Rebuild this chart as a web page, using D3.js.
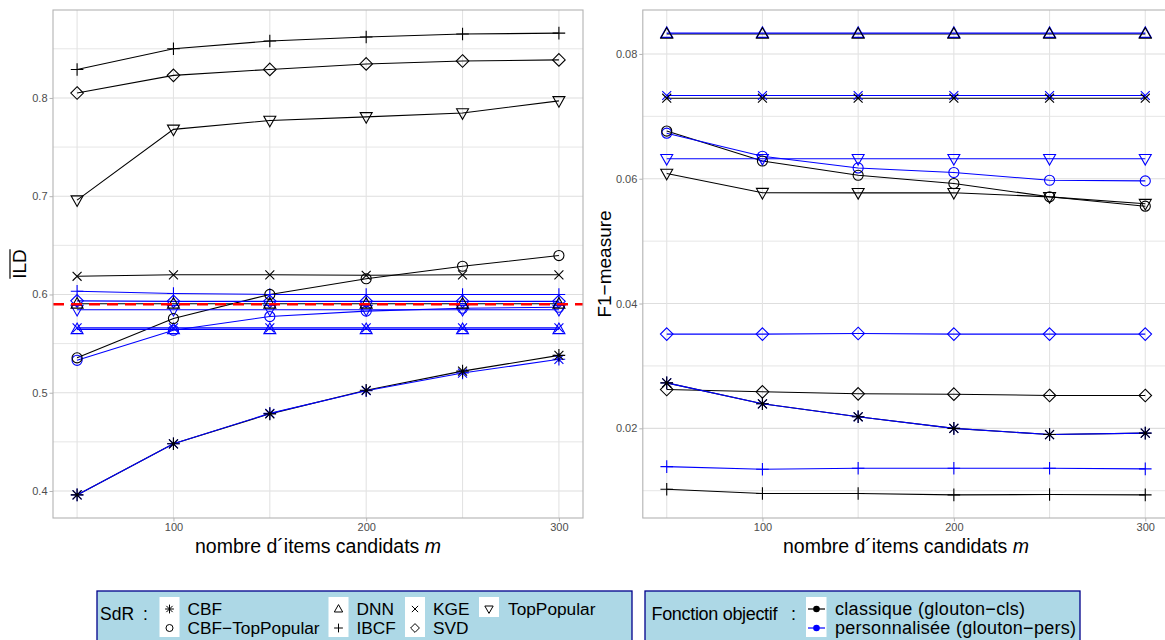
<!DOCTYPE html>
<html>
<head>
<meta charset="utf-8">
<script src="https://cdn.jsdelivr.net/npm/d3@7"></script>
<style>
  body { margin: 0; background: #fff; }
  svg { display: block; font-family: "Liberation Sans", Arial, sans-serif; }
</style>
</head>
<body>
<svg id="chart" width="1165" height="640"></svg>
<script>
// nombre d'items candidats
var mValues = [50, 100, 150, 200, 250, 300]
var systems = ['CBF', 'CBF\u2212TopPopular', 'DNN', 'IBCF', 'KGE', 'SVD', 'TopPopular']
var shapes = ['asterisk', 'circle', 'triUp', 'plus', 'cross', 'diamond', 'triDown']

// ILD, rows follow systems
var ildCls = [
    [0.396, 0.448, 0.4785, 0.5025, 0.522, 0.538],
    [0.5355, 0.5755, 0.600, 0.616, 0.6287, 0.6396],
    [0.5905, 0.5905, 0.5905, 0.5905, 0.5905, 0.5905],
    [0.829, 0.850, 0.858, 0.862, 0.865, 0.866],
    [0.6185, 0.620, 0.620, 0.6195, 0.620, 0.620],
    [0.805, 0.823, 0.829, 0.8346, 0.8376, 0.8387],
    [0.696, 0.768, 0.777, 0.7807, 0.7847, 0.797]
]
var ildPers = [
    [0.396, 0.448, 0.479, 0.502, 0.520, 0.534],
    [0.533, 0.5636, 0.5775, 0.583, 0.586, 0.587],
    [0.5645, 0.5645, 0.5645, 0.5645, 0.5645, 0.5645],
    [0.6033, 0.601, 0.600, 0.600, 0.600, 0.600],
    [0.566, 0.566, 0.566, 0.566, 0.566, 0.566],
    [0.5935, 0.593, 0.593, 0.593, 0.593, 0.593],
    [0.5845, 0.5845, 0.5845, 0.5845, 0.5845, 0.5845]
]
var ildReference = 0.59

// F1-measure
var f1Cls = [
    [0.02728, 0.02393, 0.02185, 0.0200, 0.0190, 0.01923],
    [0.06764, 0.06284, 0.06056, 0.05923, 0.0571, 0.0556],
    [0.0832, 0.0832, 0.0832, 0.0832, 0.0832, 0.0832],
    [0.01024, 0.00955, 0.00955, 0.00933, 0.0094, 0.00933],
    [0.0729, 0.0729, 0.0729, 0.0729, 0.0729, 0.0729],
    [0.02622, 0.02585, 0.02553, 0.02547, 0.02526, 0.02526],
    [0.06083, 0.05776, 0.05774, 0.05775, 0.0571, 0.0560]
]
var f1Pers = [
    [0.02728, 0.02393, 0.02185, 0.0200, 0.0190, 0.01923],
    [0.0673, 0.0636, 0.06173, 0.0610, 0.05976, 0.05965],
    [0.08334, 0.08334, 0.08334, 0.08334, 0.08334, 0.08334],
    [0.01387, 0.01344, 0.0136, 0.0136, 0.0136, 0.0135],
    [0.07334, 0.07334, 0.07334, 0.07334, 0.07334, 0.07334],
    [0.0351, 0.0351, 0.0352, 0.0351, 0.0351, 0.0351],
    [0.0632, 0.0632, 0.0632, 0.0632, 0.0632, 0.0632]
]

var xMajor = [100, 200, 300]
var xMinor = [50, 150, 250]
var ildTicks = [0.4, 0.5, 0.6, 0.7, 0.8]
var ildMinor = [0.45, 0.55, 0.65, 0.75, 0.85]
var f1Ticks = [0.02, 0.04, 0.06, 0.08]
var f1Minor = [0.01, 0.03, 0.05, 0.07]

var objectives = ['classique (glouton\u2212cls)', 'personnalis\u00e9e (glouton\u2212pers)']
var objColors = ['black', 'blue']

var svg = d3.select('#chart')

function shapePath(shape, s){
    var p = d3.path()
    var d = s * 0.71
    if(shape == 'circle'){
        p.arc(0, 0, s * 0.8, 0, 2 * Math.PI)
    } else if(shape == 'triUp'){
        p.moveTo(0, -s); p.lineTo(s * 0.95, s * 0.68); p.lineTo(-s * 0.95, s * 0.68); p.closePath()
    } else if(shape == 'triDown'){
        p.moveTo(0, s); p.lineTo(s * 0.95, -s * 0.68); p.lineTo(-s * 0.95, -s * 0.68); p.closePath()
    } else if(shape == 'diamond'){
        p.moveTo(0, -s); p.lineTo(s, 0); p.lineTo(0, s); p.lineTo(-s, 0); p.closePath()
    } else if(shape == 'plus'){
        p.moveTo(-s, 0); p.lineTo(s, 0); p.moveTo(0, -s); p.lineTo(0, s)
    } else if(shape == 'cross'){
        p.moveTo(-d, -d); p.lineTo(d, d); p.moveTo(-d, d); p.lineTo(d, -d)
    } else {
        p.moveTo(-s, 0); p.lineTo(s, 0); p.moveTo(0, -s); p.lineTo(0, s)
        p.moveTo(-d, -d); p.lineTo(d, d); p.moveTo(-d, d); p.lineTo(d, -d)
    }
    return p.toString()
}

function expand(vals){
    var ext = d3.extent(vals)
    var r = ext[1] - ext[0]
    return [ext[0] - r * 0.05, ext[1] + r * 0.05]
}

var panels = [
    {x0: 53, x1: 583, cls: ildCls, pers: ildPers, ticks: ildTicks, minor: ildMinor, ref: ildReference, fmt: d3.format('.1f'), ylabel: 'ILD', labelX: 26},
    {x0: 642.8, x1: 1169.2, cls: f1Cls, pers: f1Pers, ticks: f1Ticks, minor: f1Minor, ref: null, fmt: d3.format('.2f'), ylabel: 'F1\u2212measure', labelX: 611}
]
var plotTop = 10, plotBottom = 518

panels.forEach(function(pn){
    var all = d3.merge(pn.cls.concat(pn.pers))
    if(pn.ref != null) all.push(pn.ref)
    var x = d3.scaleLinear().domain(expand(mValues)).range([pn.x0, pn.x1])
    var y = d3.scaleLinear().domain(expand(all)).range([plotBottom, plotTop])

    var g = svg.append('g')

    // grid
    g.selectAll('line.hminor').data(pn.minor.filter(function(v){ return y(v) > plotTop && y(v) < plotBottom }))
        .enter().append('line')
        .attr('x1', pn.x0).attr('x2', pn.x1)
        .attr('y1', function(d){ return y(d) }).attr('y2', function(d){ return y(d) })
        .attr('stroke', '#e6e6e6').attr('stroke-width', 1)
    g.selectAll('line.hmajor').data(pn.ticks)
        .enter().append('line')
        .attr('x1', pn.x0).attr('x2', pn.x1)
        .attr('y1', function(d){ return y(d) }).attr('y2', function(d){ return y(d) })
        .attr('stroke', '#dedede').attr('stroke-width', 1.1)
    g.selectAll('line.vgrid').data(xMinor.concat(xMajor))
        .enter().append('line')
        .attr('x1', function(d){ return x(d) }).attr('x2', function(d){ return x(d) })
        .attr('y1', plotTop).attr('y2', plotBottom)
        .attr('stroke', '#e3e3e3').attr('stroke-width', 1.1)

    var line = d3.line()
        .x(function(d, i){ return x(mValues[i]) })
        .y(function(d){ return y(d) })

    // lines: cls then pers
    ;[pn.cls, pn.pers].forEach(function(set, k){
        g.selectAll('path.l' + k).data(set)
            .enter().append('path')
            .attr('d', line)
            .attr('fill', 'none')
            .attr('stroke', objColors[k])
            .attr('stroke-width', 1.1)
    })

    // points: pers then cls
    ;[[pn.pers, 1], [pn.cls, 0]].forEach(function(pair){
        var set = pair[0], k = pair[1]
        set.forEach(function(vals, si){
            g.selectAll(null).data(vals)
                .enter().append('path')
                .attr('transform', function(d, i){ return 'translate(' + x(mValues[i]) + ',' + y(d) + ')' })
                .attr('d', shapePath(shapes[si], 6.3))
                .attr('fill', 'none')
                .attr('stroke', objColors[k])
                .attr('stroke-width', 1.1)
        })
    })

    if(pn.ref != null){
        g.append('line')
            .attr('x1', pn.x0).attr('x2', pn.x1)
            .attr('y1', y(pn.ref)).attr('y2', y(pn.ref))
            .attr('stroke', 'red').attr('stroke-width', 2.6)
            .attr('stroke-dasharray', '11,7')
    }

    // border
    g.append('rect')
        .attr('x', pn.x0).attr('y', plotTop)
        .attr('width', pn.x1 - pn.x0).attr('height', plotBottom - plotTop)
        .attr('fill', 'none').attr('stroke', '#b3b3b3').attr('stroke-width', 1.1)

    // axes
    var ya = g.append('g').attr('transform', 'translate(' + pn.x0 + ',0)')
        .call(d3.axisLeft(y).tickValues(pn.ticks).tickFormat(pn.fmt).tickSize(3.5).tickPadding(2))
    var xa = g.append('g').attr('transform', 'translate(0,' + plotBottom + ')')
        .call(d3.axisBottom(x).tickValues(xMajor).tickSize(3.5).tickPadding(2))
    ;[ya, xa].forEach(function(a){
        a.select('.domain').remove()
        a.selectAll('line').attr('stroke', '#b3b3b3')
        a.selectAll('text').attr('fill', '#4d4d4d').style('fill', '#4d4d4d').attr('font-size', '11px')
            .attr('font-family', '"Liberation Sans", Arial, sans-serif')
    })

    // axis titles
    var xt = g.append('text')
        .attr('x', (pn.x0 + pn.x1) / 2).attr('y', 553)
        .attr('text-anchor', 'middle').attr('font-size', '19.5px').attr('fill', 'black')
    xt.append('tspan').text('nombre d\u00b4items candidats ')
    xt.append('tspan').attr('font-style', 'italic').text('m')

    var yl = g.append('g').attr('transform', 'translate(' + pn.labelX + ',' + ((plotTop + plotBottom) / 2) + ') rotate(-90)')
    var yt = yl.append('text').attr('text-anchor', 'middle')
        .attr('font-size', '19px').attr('fill', 'black').text(pn.ylabel)
    if(pn.ylabel == 'ILD'){
        var w = yt.node().getComputedTextLength()
        yl.append('line')
            .attr('x1', -w / 2).attr('x2', w / 2)
            .attr('y1', -16).attr('y2', -16)
            .attr('stroke', 'black').attr('stroke-width', 1.2)
    }
})

// legends
var legSys = svg.append('g')
legSys.append('rect')
    .attr('x', 97).attr('y', 591).attr('width', 535).attr('height', 60)
    .attr('fill', '#add8e6').attr('stroke', '#00008b').attr('stroke-width', 1.3)
legSys.append('text').attr('x', 100).attr('y', 620).attr('font-size', '17.5px').text('SdR')
legSys.append('text').attr('x', 143).attr('y', 620).attr('font-size', '17.5px').text(':')

var colKeyX = [169.5, 338.5, 415, 489]
var colTextX = [187.5, 356.5, 433, 508]
var rowY = [609, 628]

colKeyX.forEach(function(cx, c){
    var rows = Math.min(2, systems.length - c * 2)
    legSys.append('rect')
        .attr('x', cx - 10).attr('y', 597).attr('width', 20).attr('height', rows * 20)
        .attr('fill', 'white')
})
systems.forEach(function(name, i){
    var col = Math.floor(i / 2), row = i % 2
    legSys.append('path')
        .attr('transform', 'translate(' + colKeyX[col] + ',' + rowY[row] + ')')
        .attr('d', shapePath(shapes[i], 4.4))
        .attr('fill', 'none').attr('stroke', 'black').attr('stroke-width', 1)
    legSys.append('text')
        .attr('x', colTextX[col]).attr('y', rowY[row] + 6)
        .attr('font-size', '17.3px').text(name)
})

var legObj = svg.append('g')
legObj.append('rect')
    .attr('x', 645).attr('y', 591).attr('width', 435).attr('height', 60)
    .attr('fill', '#add8e6').attr('stroke', '#00008b').attr('stroke-width', 1.3)
legObj.append('text').attr('x', 651.5).attr('y', 620).attr('font-size', '18px')
    .attr('textLength', 126).attr('lengthAdjust', 'spacing').text('Fonction objectif')
legObj.append('text').attr('x', 791).attr('y', 620).attr('font-size', '18px').text(':')
legObj.append('rect')
    .attr('x', 806).attr('y', 597).attr('width', 20.5).attr('height', 40)
    .attr('fill', 'white')
objectives.forEach(function(name, i){
    legObj.append('line')
        .attr('x1', 808).attr('x2', 825)
        .attr('y1', rowY[i]).attr('y2', rowY[i])
        .attr('stroke', objColors[i]).attr('stroke-width', 1.2)
    legObj.append('circle')
        .attr('cx', 816.5).attr('cy', rowY[i]).attr('r', 3.3)
        .attr('fill', objColors[i])
    legObj.append('text')
        .attr('x', 835).attr('y', rowY[i] + 6)
        .attr('font-size', '18px').attr('textLength', i == 0 ? 190 : 241)
        .attr('lengthAdjust', 'spacing').text(name)
})
</script>
</body>
</html>
